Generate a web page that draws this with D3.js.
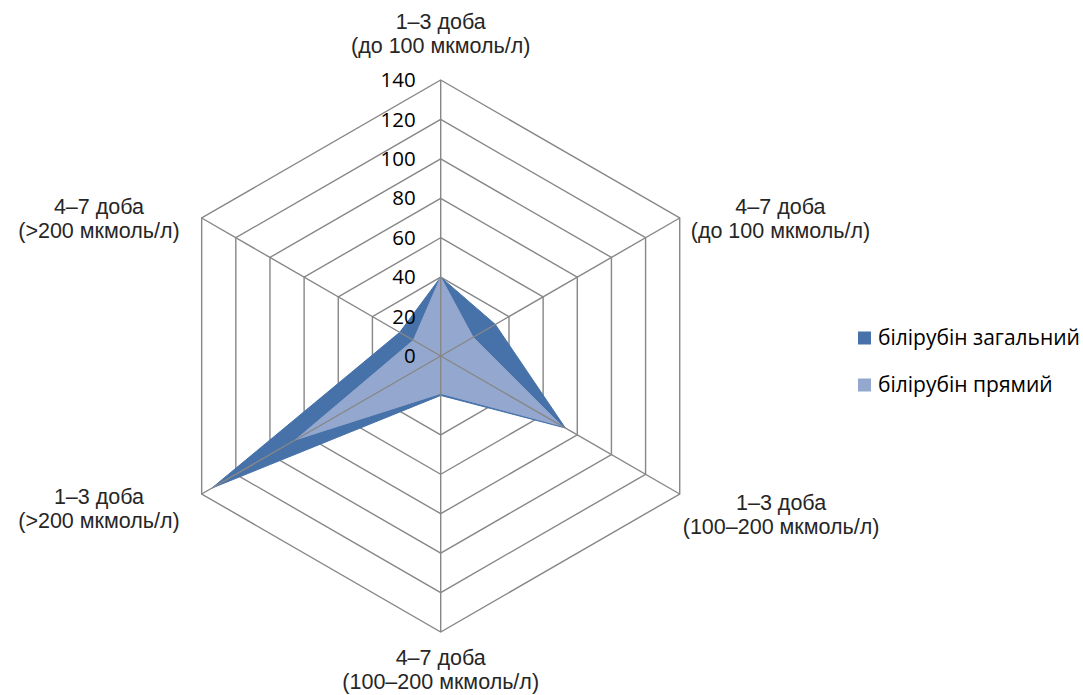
<!DOCTYPE html>
<html>
<head>
    <meta charset="utf-8">
    <title>Білірубін</title>
    <script src="https://d3js.org/d3.v7.min.js"></script>
    <style>
        body { margin: 0; background: #fff; }
        #chart { display: block; }
    </style>
</head>
<body>
    <svg id="chart"></svg>

    <script>
        // data
        const categories = [
            ["1–3 доба", "(до 100 мкмоль/л)"],
            ["4–7 доба", "(до 100 мкмоль/л)"],
            ["1–3 доба", "(100–200 мкмоль/л)"],
            ["4–7 доба", "(100–200 мкмоль/л)"],
            ["1–3 доба", "(>200 мкмоль/л)"],
            ["4–7 доба", "(>200 мкмоль/л)"]
        ];
        const seriesNames = ["білірубін загальний", "білірубін прямий"];
        const totalValues = [40, 32, 73, 20, 134, 24];
        const directValues = [40, 19, 71, 19, 85, 16];
        const ticks = [0, 20, 40, 60, 80, 100, 120, 140];
        const colors = ["#4672A9", "#94A8CF"];

        // chart dimensions
        const width = 1083;
        const height = 695;
        const cx = 440.7, cy = 356;
        const radius = 276;

        const svg = d3.select("#chart")
            .attr("width", width)
            .attr("height", height);

        const r = d3.scaleLinear().domain([0, 140]).range([0, radius]);
        const angle = d3.scalePoint()
            .domain(d3.range(categories.length))
            .range([0, 2 * Math.PI * (categories.length - 1) / categories.length]);

        const pt = (i, v) => {
            const a = angle(i);
            return [cx + r(v) * Math.sin(a), cy - r(v) * Math.cos(a)];
        };

        const g = svg.append("g");

        // rings
        g.selectAll(".ring")
            .data(ticks.filter(t => t > 0))
            .enter()
            .append("polygon")
            .attr("class", "ring")
            .attr("points", t => categories.map((c, i) => pt(i, t).join(",")).join(" "))
            .attr("fill", "none")
            .attr("stroke", "#878787")
            .attr("stroke-width", 1.4);

        // series areas
        const series = [totalValues, directValues];
        g.selectAll(".area")
            .data(series)
            .enter()
            .append("polygon")
            .attr("class", "area")
            .attr("points", vals => vals.map((v, i) => pt(i, v).join(",")).join(" "))
            .attr("fill", (d, i) => colors[i])
            .attr("stroke", (d, i) => colors[i])
            .attr("stroke-width", 1);

        // spokes
        g.selectAll(".spoke")
            .data(categories)
            .enter()
            .append("line")
            .attr("class", "spoke")
            .attr("x1", cx).attr("y1", cy)
            .attr("x2", (d, i) => pt(i, 140)[0])
            .attr("y2", (d, i) => pt(i, 140)[1])
            .attr("stroke", "#878787")
            .attr("stroke-width", 1.4);

        // tick labels
        g.selectAll(".tick")
            .data(ticks)
            .enter()
            .append("text")
            .attr("x", cx - 25)
            .attr("y", t => cy - r(t))
            .attr("dy", "0.35em")
            .attr("text-anchor", "end")
            .style("font-family", "'Open Sans', sans-serif")
            .style("font-size", "20.5px")
            .attr("fill", "#000")
            .text(t => t);

        // category labels (gap from outer ring, vertical nudge)
        const labelGap = [22, 11, 3, 17, 22, 22];
        const labelNudge = [0, 0, -2, -3, -8, 0];
        const lineH = 24;
        categories.forEach((lines, i) => {
            const a = angle(i);
            const dx = Math.sin(a), dy = -Math.cos(a);
            const t = g.append("text")
                .style("font-family", "'Liberation Sans', Arial, sans-serif")
                .style("font-size", "21.5px")
                .attr("fill", "#262626")
                .attr("text-anchor", "middle");
            lines.forEach((s, k) => {
                t.append("tspan").attr("x", 0).attr("y", k * lineH).text(s);
            });
            const bb = t.node().getBBox();
            const [px, py] = pt(i, 140);
            let x, y;
            if (Math.abs(dx) < 0.1) {
                x = px;
                y = dy < 0 ? py - labelGap[i] - (bb.y + bb.height) : py + labelGap[i] - bb.y;
            } else {
                x = dx > 0 ? px + labelGap[i] + bb.width / 2 : px - labelGap[i] - bb.width / 2;
                y = dy < 0 ? py + 1 - (bb.y + bb.height / 2) : py - 1 - bb.y;
            }
            t.attr("transform", `translate(${x},${y + labelNudge[i]})`);
        });

        // legend
        const legend = svg.append("g")
            .attr("transform", "translate(858, 338)");
        seriesNames.forEach((name, i) => {
            legend.append("rect")
                .attr("x", 0).attr("y", i * 47 - 6.5)
                .attr("width", 13).attr("height", 13)
                .attr("fill", colors[i]);
            legend.append("text")
                .attr("x", 20).attr("y", i * 47)
                .attr("dy", "0.35em")
                .style("font-family", "'Open Sans', sans-serif")
                .style("font-size", "21px")
                .attr("fill", "#000")
                .text(name);
        });
    </script>
</body>
</html>
